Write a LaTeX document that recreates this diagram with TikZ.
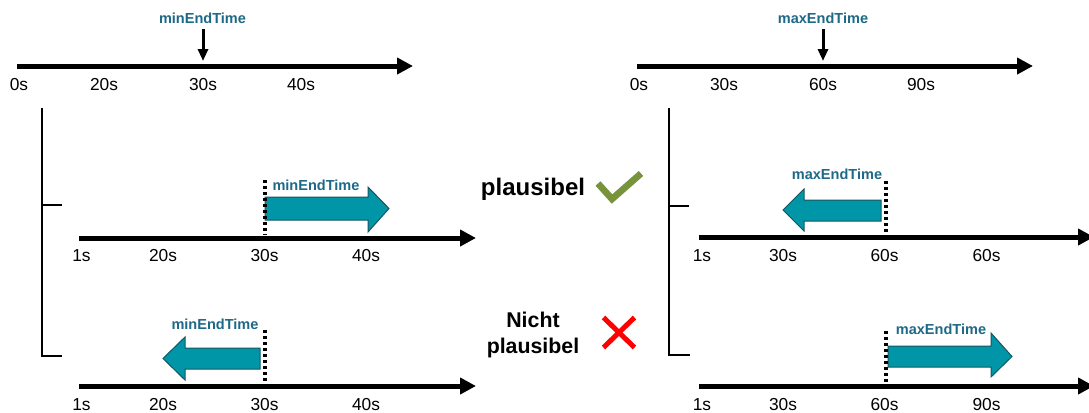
\documentclass[tikz,border=0pt]{standalone}
\usepackage{fontspec}
\setmainfont{Liberation Sans}
\usetikzlibrary{arrows.meta}
\definecolor{tealtext}{RGB}{30,105,135}
\definecolor{tealfill}{RGB}{0,150,167}
\definecolor{tealedge}{RGB}{25,85,95}
\definecolor{okgreen}{RGB}{119,147,60}
\definecolor{badred}{RGB}{255,0,0}
\tikzset{
  axis/.style={line width=3.75pt, -{Triangle[length=12pt,width=12pt]}},
  ticklbl/.style={anchor=base, font=\fontsize{13}{15}\selectfont, inner sep=0pt},
  marklbl/.style={anchor=base, font=\fontsize{10.9}{13}\selectfont\bfseries, text=tealtext, inner sep=0pt},
  pointer/.style={line width=2.25pt, -{Triangle[length=9pt,width=7.5pt]}},
  limitline/.style={line width=2.5pt, dash pattern=on 2.5pt off 2pt},
  blockarrow/.style={fill=tealfill, draw=tealedge, line width=0.75pt, line join=miter},
  bracket/.style={line width=1.5pt},
  verdictbig/.style={anchor=base, font=\fontsize{18}{21}\selectfont\bfseries, inner sep=0pt},
  verdict/.style={anchor=base, font=\fontsize{16}{19.5}\selectfont\bfseries, inner sep=0pt},
}
\begin{document}
\begin{tikzpicture}[x=0.75pt,y=-0.75pt]
\useasboundingbox (0,0) rectangle (1089,412);

% ---------- reference scale: minimum end time ----------
\coordinate (minS) at (17,66);
\coordinate (minE) at (413,66);
\draw[axis] (minS) -- (minE);
\node[ticklbl] (min0) at (19,90) {0s};
\node[ticklbl] (min20) at (104,90) {20s};
\node[ticklbl] (min30) at (203,90) {30s};
\node[ticklbl] (min40) at (301,90) {40s};
\node[marklbl] (minLbl) at (202.5,23) {minEndTime};
\coordinate (minPtrA) at (203,29);
\coordinate (minPtrB) at (203,61);
\draw[pointer] (minPtrA) -- (minPtrB);

% ---------- reference scale: maximum end time ----------
\coordinate (maxS) at (637,66);
\coordinate (maxE) at (1033,66);
\draw[axis] (maxS) -- (maxE);
\node[ticklbl] (max0) at (639,90) {0s};
\node[ticklbl] (max30) at (724,90) {30s};
\node[ticklbl] (max60) at (823,90) {60s};
\node[ticklbl] (max90) at (921,90) {90s};
\node[marklbl] (maxLbl) at (823,23) {maxEndTime};
\coordinate (maxPtrA) at (823,29);
\coordinate (maxPtrB) at (823,61);
\draw[pointer] (maxPtrA) -- (maxPtrB);

% ---------- brackets ----------
\draw[bracket] (42,108) -- (42,356) -- (62,356);
\draw[bracket] (42,205) -- (62,205);
\draw[bracket] (669,108) -- (669,355) -- (690,355);
\draw[bracket] (669,206) -- (689,206);

% ---------- left, case 1: arrow pointing later ----------
\coordinate (l1S) at (79,238);
\coordinate (l1E) at (476,238);
\draw[axis] (l1S) -- (l1E);
\node[ticklbl] (l1t1) at (81.5,261) {1s};
\node[ticklbl] (l1t20) at (163,261) {20s};
\node[ticklbl] (l1t30) at (264.5,261) {30s};
\node[ticklbl] (l1t40) at (366,261) {40s};
\draw[blockarrow] (265,197) -- (368,197) -- (368,187) -- (389,208.5) -- (368,232) -- (368,220) -- (265,220) -- cycle;
\draw[limitline] (265,180) -- (265,235);
\node[marklbl] (l1Lbl) at (316,190) {minEndTime};

% ---------- left, case 2: arrow pointing earlier ----------
\coordinate (l2S) at (79,386);
\coordinate (l2E) at (476,386);
\draw[axis] (l2S) -- (l2E);
\node[ticklbl] (l2t1) at (81.5,410) {1s};
\node[ticklbl] (l2t20) at (163,410) {20s};
\node[ticklbl] (l2t30) at (264.5,410) {30s};
\node[ticklbl] (l2t40) at (366,410) {40s};
\draw[blockarrow] (260,348) -- (185,348) -- (185,337) -- (163,358.5) -- (185,380) -- (185,369) -- (260,369) -- cycle;
\draw[limitline] (265,330) -- (265,383);
\node[marklbl] (l2Lbl) at (215,329) {minEndTime};

% ---------- right, case 1: arrow pointing earlier ----------
\coordinate (r1S) at (699,237);
\coordinate (r1E) at (1094,237);
\draw[axis] (r1S) -- (r1E);
\node[ticklbl] (r1t1) at (702,261) {1s};
\node[ticklbl] (r1t30) at (783,261) {30s};
\node[ticklbl] (r1t60) at (884.5,261) {60s};
\node[ticklbl] (r1t60b) at (986.5,261) {60s};
\draw[blockarrow] (881,200) -- (804,200) -- (804,189) -- (783,210) -- (804,231) -- (804,221) -- (881,221) -- cycle;
\draw[limitline] (886,181) -- (886,233);
\node[marklbl] (r1Lbl) at (837,179) {maxEndTime};

% ---------- right, case 2: arrow pointing later ----------
\coordinate (r2S) at (699,386);
\coordinate (r2E) at (1094,386);
\draw[axis] (r2S) -- (r2E);
\node[ticklbl] (r2t1) at (702,410) {1s};
\node[ticklbl] (r2t30) at (783,410) {30s};
\node[ticklbl] (r2t60) at (884.5,410) {60s};
\node[ticklbl] (r2t90) at (986.5,410) {90s};
\draw[blockarrow] (888,346) -- (991,346) -- (991,333) -- (1012,356.5) -- (991,377) -- (991,367) -- (888,367) -- cycle;
\draw[limitline] (886,331) -- (886,383);
\node[marklbl] (r2Lbl) at (941,334) {maxEndTime};

% ---------- verdicts ----------
\node[verdictbig] (ok) at (533,195) {plausibel};
\draw[okgreen, line width=5pt] (598,183.5) -- (612,199) -- (641,173.5);
\node[verdict] (nok1) at (533,327) {Nicht};
\node[verdict] (nok2) at (533,353) {plausibel};
\draw[badred, line width=3.75pt] (603.5,317.5) -- (634.5,347.5);
\draw[badred, line width=3.75pt] (634.5,317.5) -- (603.5,347.5);
\end{tikzpicture}
\end{document}
